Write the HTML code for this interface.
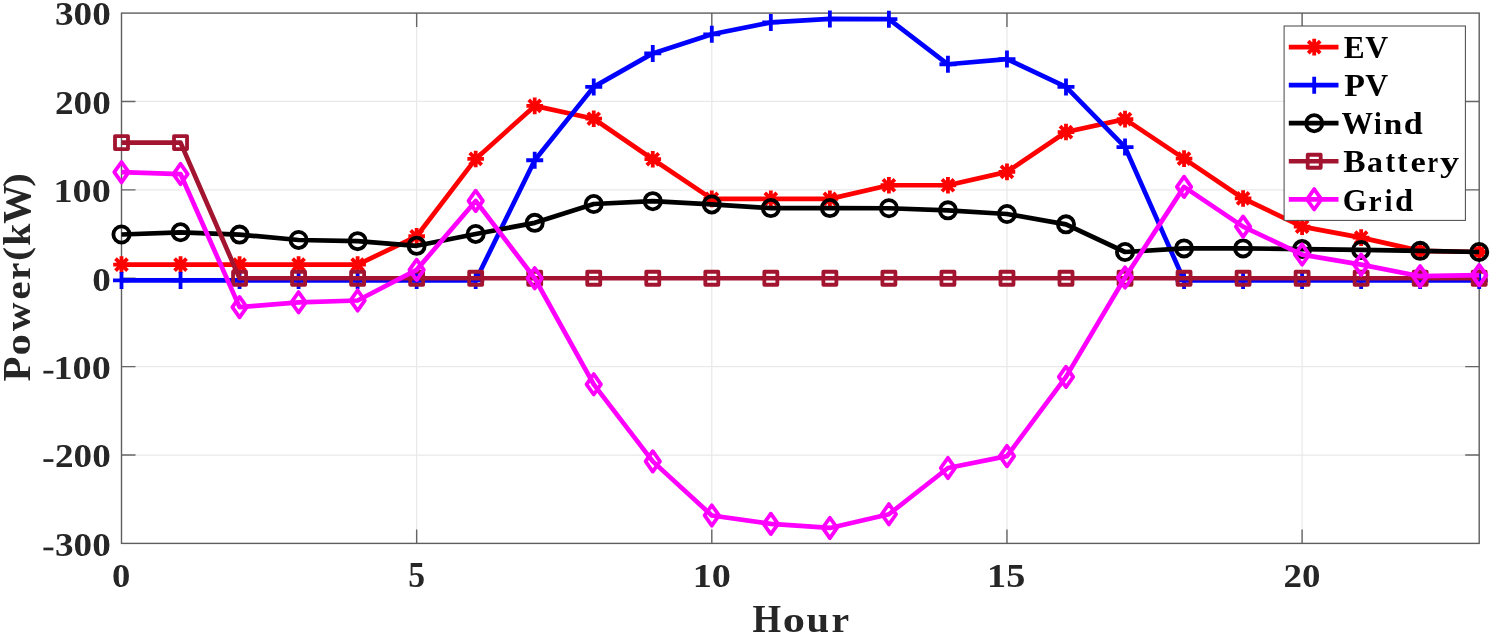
<!DOCTYPE html><html><head><meta charset="utf-8"><style>html,body{margin:0;padding:0;background:#fff;width:1492px;height:636px;overflow:hidden}svg{display:block;filter:blur(0.4px)}text{font-family:"Liberation Serif",serif;font-weight:bold}</style></head><body>
<svg width="1492" height="636" viewBox="0 0 1492 636">
<rect width="1492" height="636" fill="#fff"/>
<path d="M121.5 455.02H1479.2M121.5 366.63H1479.2M121.5 278.25H1479.2M121.5 189.87H1479.2M121.5 101.48H1479.2M416.65 13.1V543.4M711.80 13.1V543.4M1006.96 13.1V543.4M1302.11 13.1V543.4" stroke="#e9e9e9" stroke-width="1.25" fill="none"/>
<path d="M121.5 455.02h14M1479.2 455.02h-14M121.5 366.63h14M1479.2 366.63h-14M121.5 278.25h14M1479.2 278.25h-14M121.5 189.87h14M1479.2 189.87h-14M121.5 101.48h14M1479.2 101.48h-14M416.65 543.4v-14M416.65 13.1v14M711.80 543.4v-14M711.80 13.1v14M1006.96 543.4v-14M1006.96 13.1v14M1302.11 543.4v-14M1302.11 13.1v14" stroke="#666" stroke-width="1.4" fill="none"/>
<rect x="121.5" y="13.1" width="1357.70" height="530.30" stroke="#5e5e5e" stroke-width="1.4" fill="none"/>
<polyline points="121.50,264.64 180.53,264.64 239.56,264.64 298.59,264.64 357.62,264.64 416.65,236.27 475.68,158.93 534.71,105.90 593.74,118.72 652.77,159.20 711.80,198.88 770.83,198.88 829.87,198.88 888.90,185.27 947.93,185.27 1006.96,171.84 1065.99,132.06 1125.02,119.16 1184.05,158.67 1243.08,198.44 1302.11,226.63 1361.14,237.59 1420.17,250.85 1479.20,252.00" stroke="#ff0000" stroke-width="4.7" fill="none" stroke-linejoin="round" stroke-linecap="butt"/>
<path d="M113.20 264.64H129.80M121.50 256.34V272.94M115.52 258.66L127.48 270.61M115.52 270.61L127.48 258.66" stroke="#ff0000" stroke-width="3.8" fill="none"/><path d="M172.23 264.64H188.83M180.53 256.34V272.94M174.55 258.66L186.51 270.61M174.55 270.61L186.51 258.66" stroke="#ff0000" stroke-width="3.8" fill="none"/><path d="M231.26 264.64H247.86M239.56 256.34V272.94M233.58 258.66L245.54 270.61M233.58 270.61L245.54 258.66" stroke="#ff0000" stroke-width="3.8" fill="none"/><path d="M290.29 264.64H306.89M298.59 256.34V272.94M292.62 258.66L304.57 270.61M292.62 270.61L304.57 258.66" stroke="#ff0000" stroke-width="3.8" fill="none"/><path d="M349.32 264.64H365.92M357.62 256.34V272.94M351.65 258.66L363.60 270.61M351.65 270.61L363.60 258.66" stroke="#ff0000" stroke-width="3.8" fill="none"/><path d="M408.35 236.27H424.95M416.65 227.97V244.57M410.68 230.29L422.63 242.24M410.68 242.24L422.63 230.29" stroke="#ff0000" stroke-width="3.8" fill="none"/><path d="M467.38 158.93H483.98M475.68 150.63V167.23M469.71 152.96L481.66 164.91M469.71 164.91L481.66 152.96" stroke="#ff0000" stroke-width="3.8" fill="none"/><path d="M526.41 105.90H543.01M534.71 97.60V114.20M528.74 99.93L540.69 111.88M528.74 111.88L540.69 99.93" stroke="#ff0000" stroke-width="3.8" fill="none"/><path d="M585.44 118.72H602.04M593.74 110.42V127.02M587.77 112.74L599.72 124.69M587.77 124.69L599.72 112.74" stroke="#ff0000" stroke-width="3.8" fill="none"/><path d="M644.47 159.20H661.07M652.77 150.90V167.50M646.80 153.22L658.75 165.17M646.80 165.17L658.75 153.22" stroke="#ff0000" stroke-width="3.8" fill="none"/><path d="M703.50 198.88H720.10M711.80 190.58V207.18M705.83 192.91L717.78 204.86M705.83 204.86L717.78 192.91" stroke="#ff0000" stroke-width="3.8" fill="none"/><path d="M762.53 198.88H779.13M770.83 190.58V207.18M764.86 192.91L776.81 204.86M764.86 204.86L776.81 192.91" stroke="#ff0000" stroke-width="3.8" fill="none"/><path d="M821.57 198.88H838.17M829.87 190.58V207.18M823.89 192.91L835.84 204.86M823.89 204.86L835.84 192.91" stroke="#ff0000" stroke-width="3.8" fill="none"/><path d="M880.60 185.27H897.20M888.90 176.97V193.57M882.92 179.29L894.87 191.25M882.92 191.25L894.87 179.29" stroke="#ff0000" stroke-width="3.8" fill="none"/><path d="M939.63 185.27H956.23M947.93 176.97V193.57M941.95 179.29L953.90 191.25M941.95 191.25L953.90 179.29" stroke="#ff0000" stroke-width="3.8" fill="none"/><path d="M998.66 171.84H1015.26M1006.96 163.54V180.14M1000.98 165.86L1012.93 177.81M1000.98 177.81L1012.93 165.86" stroke="#ff0000" stroke-width="3.8" fill="none"/><path d="M1057.69 132.06H1074.29M1065.99 123.76V140.36M1060.01 126.09L1071.96 138.04M1060.01 138.04L1071.96 126.09" stroke="#ff0000" stroke-width="3.8" fill="none"/><path d="M1116.72 119.16H1133.32M1125.02 110.86V127.46M1119.04 113.18L1130.99 125.14M1119.04 125.14L1130.99 113.18" stroke="#ff0000" stroke-width="3.8" fill="none"/><path d="M1175.75 158.67H1192.35M1184.05 150.37V166.97M1178.07 152.69L1190.02 164.64M1178.07 164.64L1190.02 152.69" stroke="#ff0000" stroke-width="3.8" fill="none"/><path d="M1234.78 198.44H1251.38M1243.08 190.14V206.74M1237.10 192.46L1249.05 204.42M1237.10 204.42L1249.05 192.46" stroke="#ff0000" stroke-width="3.8" fill="none"/><path d="M1293.81 226.63H1310.41M1302.11 218.33V234.93M1296.13 220.66L1308.08 232.61M1296.13 232.61L1308.08 220.66" stroke="#ff0000" stroke-width="3.8" fill="none"/><path d="M1352.84 237.59H1369.44M1361.14 229.29V245.89M1355.16 231.62L1367.12 243.57M1355.16 243.57L1367.12 231.62" stroke="#ff0000" stroke-width="3.8" fill="none"/><path d="M1411.87 250.85H1428.47M1420.17 242.55V259.15M1414.19 244.88L1426.15 256.83M1414.19 256.83L1426.15 244.88" stroke="#ff0000" stroke-width="3.8" fill="none"/><path d="M1470.90 252.00H1487.50M1479.20 243.70V260.30M1473.22 246.02L1485.18 257.98M1473.22 257.98L1485.18 246.02" stroke="#ff0000" stroke-width="3.8" fill="none"/>
<polyline points="121.50,280.46 180.53,280.46 239.56,280.46 298.59,280.46 357.62,280.46 416.65,280.46 475.68,280.46 534.71,160.26 593.74,86.90 652.77,53.40 711.80,34.31 770.83,22.47 829.87,18.93 888.90,19.20 947.93,64.27 1006.96,59.06 1065.99,86.90 1125.02,147.09 1184.05,280.46 1243.08,280.46 1302.11,280.46 1361.14,280.46 1420.17,280.46 1479.20,280.46" stroke="#0000ff" stroke-width="4.7" fill="none" stroke-linejoin="round" stroke-linecap="butt"/>
<path d="M113.00 280.46H130.00M121.50 271.96V288.96" stroke="#0000ff" stroke-width="3.8" fill="none"/><path d="M172.03 280.46H189.03M180.53 271.96V288.96" stroke="#0000ff" stroke-width="3.8" fill="none"/><path d="M231.06 280.46H248.06M239.56 271.96V288.96" stroke="#0000ff" stroke-width="3.8" fill="none"/><path d="M290.09 280.46H307.09M298.59 271.96V288.96" stroke="#0000ff" stroke-width="3.8" fill="none"/><path d="M349.12 280.46H366.12M357.62 271.96V288.96" stroke="#0000ff" stroke-width="3.8" fill="none"/><path d="M408.15 280.46H425.15M416.65 271.96V288.96" stroke="#0000ff" stroke-width="3.8" fill="none"/><path d="M467.18 280.46H484.18M475.68 271.96V288.96" stroke="#0000ff" stroke-width="3.8" fill="none"/><path d="M526.21 160.26H543.21M534.71 151.76V168.76" stroke="#0000ff" stroke-width="3.8" fill="none"/><path d="M585.24 86.90H602.24M593.74 78.40V95.40" stroke="#0000ff" stroke-width="3.8" fill="none"/><path d="M644.27 53.40H661.27M652.77 44.90V61.90" stroke="#0000ff" stroke-width="3.8" fill="none"/><path d="M703.30 34.31H720.30M711.80 25.81V42.81" stroke="#0000ff" stroke-width="3.8" fill="none"/><path d="M762.33 22.47H779.33M770.83 13.97V30.97" stroke="#0000ff" stroke-width="3.8" fill="none"/><path d="M821.37 18.93H838.37M829.87 10.43V27.43" stroke="#0000ff" stroke-width="3.8" fill="none"/><path d="M880.40 19.20H897.40M888.90 10.70V27.70" stroke="#0000ff" stroke-width="3.8" fill="none"/><path d="M939.43 64.27H956.43M947.93 55.77V72.77" stroke="#0000ff" stroke-width="3.8" fill="none"/><path d="M998.46 59.06H1015.46M1006.96 50.56V67.56" stroke="#0000ff" stroke-width="3.8" fill="none"/><path d="M1057.49 86.90H1074.49M1065.99 78.40V95.40" stroke="#0000ff" stroke-width="3.8" fill="none"/><path d="M1116.52 147.09H1133.52M1125.02 138.59V155.59" stroke="#0000ff" stroke-width="3.8" fill="none"/><path d="M1175.55 280.46H1192.55M1184.05 271.96V288.96" stroke="#0000ff" stroke-width="3.8" fill="none"/><path d="M1234.58 280.46H1251.58M1243.08 271.96V288.96" stroke="#0000ff" stroke-width="3.8" fill="none"/><path d="M1293.61 280.46H1310.61M1302.11 271.96V288.96" stroke="#0000ff" stroke-width="3.8" fill="none"/><path d="M1352.64 280.46H1369.64M1361.14 271.96V288.96" stroke="#0000ff" stroke-width="3.8" fill="none"/><path d="M1411.67 280.46H1428.67M1420.17 271.96V288.96" stroke="#0000ff" stroke-width="3.8" fill="none"/><path d="M1470.70 280.46H1487.70M1479.20 271.96V288.96" stroke="#0000ff" stroke-width="3.8" fill="none"/>
<polyline points="121.50,234.50 180.53,232.29 239.56,234.59 298.59,239.98 357.62,241.13 416.65,245.81 475.68,233.97 534.71,222.83 593.74,204.01 652.77,201.18 711.80,204.45 770.83,208.07 829.87,208.07 888.90,208.25 947.93,210.37 1006.96,214.00 1065.99,224.34 1125.02,252.00 1184.05,248.38 1243.08,248.38 1302.11,249.08 1361.14,249.97 1420.17,250.85 1479.20,252.00" stroke="#000000" stroke-width="4.7" fill="none" stroke-linejoin="round" stroke-linecap="butt"/>
<circle cx="121.50" cy="234.50" r="8.1" stroke="#000000" stroke-width="3.8" fill="none"/><circle cx="180.53" cy="232.29" r="8.1" stroke="#000000" stroke-width="3.8" fill="none"/><circle cx="239.56" cy="234.59" r="8.1" stroke="#000000" stroke-width="3.8" fill="none"/><circle cx="298.59" cy="239.98" r="8.1" stroke="#000000" stroke-width="3.8" fill="none"/><circle cx="357.62" cy="241.13" r="8.1" stroke="#000000" stroke-width="3.8" fill="none"/><circle cx="416.65" cy="245.81" r="8.1" stroke="#000000" stroke-width="3.8" fill="none"/><circle cx="475.68" cy="233.97" r="8.1" stroke="#000000" stroke-width="3.8" fill="none"/><circle cx="534.71" cy="222.83" r="8.1" stroke="#000000" stroke-width="3.8" fill="none"/><circle cx="593.74" cy="204.01" r="8.1" stroke="#000000" stroke-width="3.8" fill="none"/><circle cx="652.77" cy="201.18" r="8.1" stroke="#000000" stroke-width="3.8" fill="none"/><circle cx="711.80" cy="204.45" r="8.1" stroke="#000000" stroke-width="3.8" fill="none"/><circle cx="770.83" cy="208.07" r="8.1" stroke="#000000" stroke-width="3.8" fill="none"/><circle cx="829.87" cy="208.07" r="8.1" stroke="#000000" stroke-width="3.8" fill="none"/><circle cx="888.90" cy="208.25" r="8.1" stroke="#000000" stroke-width="3.8" fill="none"/><circle cx="947.93" cy="210.37" r="8.1" stroke="#000000" stroke-width="3.8" fill="none"/><circle cx="1006.96" cy="214.00" r="8.1" stroke="#000000" stroke-width="3.8" fill="none"/><circle cx="1065.99" cy="224.34" r="8.1" stroke="#000000" stroke-width="3.8" fill="none"/><circle cx="1125.02" cy="252.00" r="8.1" stroke="#000000" stroke-width="3.8" fill="none"/><circle cx="1184.05" cy="248.38" r="8.1" stroke="#000000" stroke-width="3.8" fill="none"/><circle cx="1243.08" cy="248.38" r="8.1" stroke="#000000" stroke-width="3.8" fill="none"/><circle cx="1302.11" cy="249.08" r="8.1" stroke="#000000" stroke-width="3.8" fill="none"/><circle cx="1361.14" cy="249.97" r="8.1" stroke="#000000" stroke-width="3.8" fill="none"/><circle cx="1420.17" cy="250.85" r="8.1" stroke="#000000" stroke-width="3.8" fill="none"/><circle cx="1479.20" cy="252.00" r="8.1" stroke="#000000" stroke-width="3.8" fill="none"/>
<polyline points="121.50,142.58 180.53,142.58 239.56,278.25 298.59,278.25 357.62,278.25 416.65,278.25 475.68,278.25 534.71,278.25 593.74,278.25 652.77,278.25 711.80,278.25 770.83,278.25 829.87,278.25 888.90,278.25 947.93,278.25 1006.96,278.25 1065.99,278.25 1125.02,278.25 1184.05,278.25 1243.08,278.25 1302.11,278.25 1361.14,278.25 1420.17,278.25 1479.20,278.25" stroke="#a2142f" stroke-width="4.7" fill="none" stroke-linejoin="round" stroke-linecap="butt"/>
<rect x="115.00" y="136.08" width="13.00" height="13.00" stroke="#a2142f" stroke-width="3.8" fill="none" stroke-linejoin="round"/><rect x="174.03" y="136.08" width="13.00" height="13.00" stroke="#a2142f" stroke-width="3.8" fill="none" stroke-linejoin="round"/><rect x="233.06" y="271.75" width="13.00" height="13.00" stroke="#a2142f" stroke-width="3.8" fill="none" stroke-linejoin="round"/><rect x="292.09" y="271.75" width="13.00" height="13.00" stroke="#a2142f" stroke-width="3.8" fill="none" stroke-linejoin="round"/><rect x="351.12" y="271.75" width="13.00" height="13.00" stroke="#a2142f" stroke-width="3.8" fill="none" stroke-linejoin="round"/><rect x="410.15" y="271.75" width="13.00" height="13.00" stroke="#a2142f" stroke-width="3.8" fill="none" stroke-linejoin="round"/><rect x="469.18" y="271.75" width="13.00" height="13.00" stroke="#a2142f" stroke-width="3.8" fill="none" stroke-linejoin="round"/><rect x="528.21" y="271.75" width="13.00" height="13.00" stroke="#a2142f" stroke-width="3.8" fill="none" stroke-linejoin="round"/><rect x="587.24" y="271.75" width="13.00" height="13.00" stroke="#a2142f" stroke-width="3.8" fill="none" stroke-linejoin="round"/><rect x="646.27" y="271.75" width="13.00" height="13.00" stroke="#a2142f" stroke-width="3.8" fill="none" stroke-linejoin="round"/><rect x="705.30" y="271.75" width="13.00" height="13.00" stroke="#a2142f" stroke-width="3.8" fill="none" stroke-linejoin="round"/><rect x="764.33" y="271.75" width="13.00" height="13.00" stroke="#a2142f" stroke-width="3.8" fill="none" stroke-linejoin="round"/><rect x="823.37" y="271.75" width="13.00" height="13.00" stroke="#a2142f" stroke-width="3.8" fill="none" stroke-linejoin="round"/><rect x="882.40" y="271.75" width="13.00" height="13.00" stroke="#a2142f" stroke-width="3.8" fill="none" stroke-linejoin="round"/><rect x="941.43" y="271.75" width="13.00" height="13.00" stroke="#a2142f" stroke-width="3.8" fill="none" stroke-linejoin="round"/><rect x="1000.46" y="271.75" width="13.00" height="13.00" stroke="#a2142f" stroke-width="3.8" fill="none" stroke-linejoin="round"/><rect x="1059.49" y="271.75" width="13.00" height="13.00" stroke="#a2142f" stroke-width="3.8" fill="none" stroke-linejoin="round"/><rect x="1118.52" y="271.75" width="13.00" height="13.00" stroke="#a2142f" stroke-width="3.8" fill="none" stroke-linejoin="round"/><rect x="1177.55" y="271.75" width="13.00" height="13.00" stroke="#a2142f" stroke-width="3.8" fill="none" stroke-linejoin="round"/><rect x="1236.58" y="271.75" width="13.00" height="13.00" stroke="#a2142f" stroke-width="3.8" fill="none" stroke-linejoin="round"/><rect x="1295.61" y="271.75" width="13.00" height="13.00" stroke="#a2142f" stroke-width="3.8" fill="none" stroke-linejoin="round"/><rect x="1354.64" y="271.75" width="13.00" height="13.00" stroke="#a2142f" stroke-width="3.8" fill="none" stroke-linejoin="round"/><rect x="1413.67" y="271.75" width="13.00" height="13.00" stroke="#a2142f" stroke-width="3.8" fill="none" stroke-linejoin="round"/><rect x="1472.70" y="271.75" width="13.00" height="13.00" stroke="#a2142f" stroke-width="3.8" fill="none" stroke-linejoin="round"/>
<polyline points="121.50,172.19 180.53,174.05 239.56,307.15 298.59,302.29 357.62,300.52 416.65,269.85 475.68,200.91 534.71,278.25 593.74,384.31 652.77,461.38 711.80,515.47 770.83,523.87 829.87,527.93 888.90,514.23 947.93,468.01 1006.96,456.08 1065.99,376.89 1125.02,277.54 1184.05,186.86 1243.08,226.63 1302.11,254.56 1361.14,264.64 1420.17,276.22 1479.20,275.16" stroke="#ff00ff" stroke-width="4.7" fill="none" stroke-linejoin="round" stroke-linecap="butt"/>
<path d="M121.50 161.99L128.70 172.19L121.50 182.39L114.30 172.19Z" stroke="#ff00ff" stroke-width="3.8" fill="none" stroke-linejoin="round"/><path d="M180.53 163.85L187.73 174.05L180.53 184.25L173.33 174.05Z" stroke="#ff00ff" stroke-width="3.8" fill="none" stroke-linejoin="round"/><path d="M239.56 296.95L246.76 307.15L239.56 317.35L232.36 307.15Z" stroke="#ff00ff" stroke-width="3.8" fill="none" stroke-linejoin="round"/><path d="M298.59 292.09L305.79 302.29L298.59 312.49L291.39 302.29Z" stroke="#ff00ff" stroke-width="3.8" fill="none" stroke-linejoin="round"/><path d="M357.62 290.32L364.82 300.52L357.62 310.72L350.42 300.52Z" stroke="#ff00ff" stroke-width="3.8" fill="none" stroke-linejoin="round"/><path d="M416.65 259.65L423.85 269.85L416.65 280.05L409.45 269.85Z" stroke="#ff00ff" stroke-width="3.8" fill="none" stroke-linejoin="round"/><path d="M475.68 190.71L482.88 200.91L475.68 211.11L468.48 200.91Z" stroke="#ff00ff" stroke-width="3.8" fill="none" stroke-linejoin="round"/><path d="M534.71 268.05L541.91 278.25L534.71 288.45L527.51 278.25Z" stroke="#ff00ff" stroke-width="3.8" fill="none" stroke-linejoin="round"/><path d="M593.74 374.11L600.94 384.31L593.74 394.51L586.54 384.31Z" stroke="#ff00ff" stroke-width="3.8" fill="none" stroke-linejoin="round"/><path d="M652.77 451.18L659.97 461.38L652.77 471.58L645.57 461.38Z" stroke="#ff00ff" stroke-width="3.8" fill="none" stroke-linejoin="round"/><path d="M711.80 505.27L719.00 515.47L711.80 525.67L704.60 515.47Z" stroke="#ff00ff" stroke-width="3.8" fill="none" stroke-linejoin="round"/><path d="M770.83 513.67L778.03 523.87L770.83 534.07L763.63 523.87Z" stroke="#ff00ff" stroke-width="3.8" fill="none" stroke-linejoin="round"/><path d="M829.87 517.73L837.07 527.93L829.87 538.13L822.67 527.93Z" stroke="#ff00ff" stroke-width="3.8" fill="none" stroke-linejoin="round"/><path d="M888.90 504.03L896.10 514.23L888.90 524.43L881.70 514.23Z" stroke="#ff00ff" stroke-width="3.8" fill="none" stroke-linejoin="round"/><path d="M947.93 457.81L955.13 468.01L947.93 478.21L940.73 468.01Z" stroke="#ff00ff" stroke-width="3.8" fill="none" stroke-linejoin="round"/><path d="M1006.96 445.88L1014.16 456.08L1006.96 466.28L999.76 456.08Z" stroke="#ff00ff" stroke-width="3.8" fill="none" stroke-linejoin="round"/><path d="M1065.99 366.69L1073.19 376.89L1065.99 387.09L1058.79 376.89Z" stroke="#ff00ff" stroke-width="3.8" fill="none" stroke-linejoin="round"/><path d="M1125.02 267.34L1132.22 277.54L1125.02 287.74L1117.82 277.54Z" stroke="#ff00ff" stroke-width="3.8" fill="none" stroke-linejoin="round"/><path d="M1184.05 176.66L1191.25 186.86L1184.05 197.06L1176.85 186.86Z" stroke="#ff00ff" stroke-width="3.8" fill="none" stroke-linejoin="round"/><path d="M1243.08 216.43L1250.28 226.63L1243.08 236.83L1235.88 226.63Z" stroke="#ff00ff" stroke-width="3.8" fill="none" stroke-linejoin="round"/><path d="M1302.11 244.36L1309.31 254.56L1302.11 264.76L1294.91 254.56Z" stroke="#ff00ff" stroke-width="3.8" fill="none" stroke-linejoin="round"/><path d="M1361.14 254.44L1368.34 264.64L1361.14 274.84L1353.94 264.64Z" stroke="#ff00ff" stroke-width="3.8" fill="none" stroke-linejoin="round"/><path d="M1420.17 266.02L1427.37 276.22L1420.17 286.42L1412.97 276.22Z" stroke="#ff00ff" stroke-width="3.8" fill="none" stroke-linejoin="round"/><path d="M1479.20 264.96L1486.40 275.16L1479.20 285.36L1472.00 275.16Z" stroke="#ff00ff" stroke-width="3.8" fill="none" stroke-linejoin="round"/>
<text transform="translate(55.01,555.72) scale(0.3718,0.3418)" font-size="100" fill="#262626">300</text>
<rect x="43.4" y="547.60" width="10.0" height="2.7" fill="#262626"/>
<text transform="translate(55.01,467.33) scale(0.3718,0.3418)" font-size="100" fill="#262626">200</text>
<rect x="43.4" y="459.22" width="10.0" height="2.7" fill="#262626"/>
<text transform="translate(53.44,378.96) scale(0.3826,0.3368)" font-size="100" fill="#262626">100</text>
<rect x="43.4" y="370.83" width="10.0" height="2.7" fill="#262626"/>
<text transform="translate(92.21,290.57) scale(0.3714,0.3418)" font-size="100" fill="#262626">0</text>
<text transform="translate(53.44,202.19) scale(0.3826,0.3368)" font-size="100" fill="#262626">100</text>
<text transform="translate(55.01,113.80) scale(0.3718,0.3418)" font-size="100" fill="#262626">200</text>
<text transform="translate(55.01,25.42) scale(0.3718,0.3418)" font-size="100" fill="#262626">300</text>
<text transform="translate(112.03,586.51) scale(0.3667,0.3463)" font-size="100" fill="#262626">0</text>
<text transform="translate(408.16,586.85) scale(0.3357,0.3515)" font-size="100" fill="#262626">5</text>
<text transform="translate(692.65,586.52) scale(0.3818,0.3412)" font-size="100" fill="#262626">10</text>
<text transform="translate(987.10,586.85) scale(0.3818,0.3463)" font-size="100" fill="#262626">15</text>
<text transform="translate(1283.62,586.51) scale(0.3696,0.3463)" font-size="100" fill="#262626">20</text>
<text transform="translate(752.56,632.20) scale(0.3676,0.4015)" font-size="100" fill="#262626">H</text><text transform="translate(782.72,632.20) scale(0.4452,0.3676)" font-size="100" fill="#262626">o</text><text transform="translate(806.59,632.20) scale(0.4059,0.3676)" font-size="100" fill="#262626">u</text><text transform="translate(831.41,632.20) scale(0.3974,0.3676)" font-size="100" fill="#262626">r</text>
<text transform="translate(29.50,381.52) rotate(-90) scale(0.4089,0.3923)" font-size="100" fill="#262626">P</text><text transform="translate(29.50,355.40) rotate(-90) scale(0.4262,0.3592)" font-size="100" fill="#262626">o</text><text transform="translate(29.50,331.10) rotate(-90) scale(0.3958,0.3592)" font-size="100" fill="#262626">w</text><text transform="translate(29.50,299.85) rotate(-90) scale(0.4154,0.3592)" font-size="100" fill="#262626">e</text><text transform="translate(29.50,279.65) rotate(-90) scale(0.3821,0.3592)" font-size="100" fill="#262626">r</text><text transform="translate(28.29,260.89) rotate(-90) scale(0.4231,0.3622)" font-size="100" fill="#262626">(</text><text transform="translate(29.50,245.79) rotate(-90) scale(0.3962,0.3696)" font-size="100" fill="#262626">k</text><text transform="translate(29.50,223.69) rotate(-90) scale(0.3907,0.3923)" font-size="100" fill="#262626">W</text><text transform="translate(28.29,186.71) rotate(-90) scale(0.4038,0.3622)" font-size="100" fill="#262626">)</text>
<rect x="1284.1" y="26.0" width="181.3" height="194.4" fill="#fff" stroke="#4d4d4d" stroke-width="1.05"/>
<path d="M1288.8 47.1H1338.5" stroke="#ff0000" stroke-width="4.7"/>
<path d="M1305.90 47.10H1322.50M1314.20 38.80V55.40M1308.22 41.12L1320.18 53.08M1308.22 53.08L1320.18 41.12" stroke="#ff0000" stroke-width="3.8" fill="none"/>
<text transform="translate(1343.67,58.30) scale(0.3133,0.3254)" font-size="100" fill="#000">E</text><text transform="translate(1365.18,58.30) scale(0.3171,0.3254)" font-size="100" fill="#000">V</text>
<path d="M1288.8 85.15H1338.5" stroke="#0000ff" stroke-width="4.7"/>
<path d="M1305.70 85.15H1322.70M1314.20 76.65V93.65" stroke="#0000ff" stroke-width="3.8" fill="none"/>
<text transform="translate(1344.32,96.35) scale(0.3393,0.3254)" font-size="100" fill="#000">P</text><text transform="translate(1365.18,96.35) scale(0.3171,0.3254)" font-size="100" fill="#000">V</text>
<path d="M1288.8 123.19999999999999H1338.5" stroke="#000000" stroke-width="4.7"/>
<circle cx="1314.20" cy="123.20" r="8.1" stroke="#000000" stroke-width="3.8" fill="none"/>
<text transform="translate(1341.58,134.40) scale(0.3155,0.3254)" font-size="100" fill="#000">W</text><text transform="translate(1373.94,134.40) scale(0.2792,0.3065)" font-size="100" fill="#000">i</text><text transform="translate(1383.70,134.40) scale(0.3333,0.2979)" font-size="100" fill="#000">n</text><text transform="translate(1403.84,134.40) scale(0.3400,0.3065)" font-size="100" fill="#000">d</text>
<path d="M1288.8 161.25H1338.5" stroke="#a2142f" stroke-width="4.7"/>
<rect x="1307.70" y="154.75" width="13.00" height="13.00" stroke="#a2142f" stroke-width="3.8" fill="none" stroke-linejoin="round"/>
<text transform="translate(1343.23,172.45) scale(0.3355,0.3254)" font-size="100" fill="#000">B</text><text transform="translate(1367.05,172.45) scale(0.3178,0.2979)" font-size="100" fill="#000">a</text><text transform="translate(1385.43,172.45) scale(0.2871,0.3254)" font-size="100" fill="#000">t</text><text transform="translate(1397.18,172.45) scale(0.3097,0.3254)" font-size="100" fill="#000">t</text><text transform="translate(1410.57,172.45) scale(0.3436,0.2979)" font-size="100" fill="#000">e</text><text transform="translate(1427.58,172.45) scale(0.2385,0.2979)" font-size="100" fill="#000">r</text><text transform="translate(1440.12,172.45) scale(0.3833,0.2979)" font-size="100" fill="#000">y</text>
<path d="M1288.8 199.29999999999998H1338.5" stroke="#ff00ff" stroke-width="4.7"/>
<path d="M1314.20 189.10L1321.40 199.30L1314.20 209.50L1307.00 199.30Z" stroke="#ff00ff" stroke-width="3.8" fill="none" stroke-linejoin="round"/>
<text transform="translate(1342.74,210.50) scale(0.3114,0.3254)" font-size="100" fill="#000">G</text><text transform="translate(1368.52,210.50) scale(0.2949,0.2979)" font-size="100" fill="#000">r</text><text transform="translate(1384.64,210.50) scale(0.2792,0.3065)" font-size="100" fill="#000">i</text><text transform="translate(1394.90,210.50) scale(0.3260,0.3065)" font-size="100" fill="#000">d</text>
</svg></body></html>
